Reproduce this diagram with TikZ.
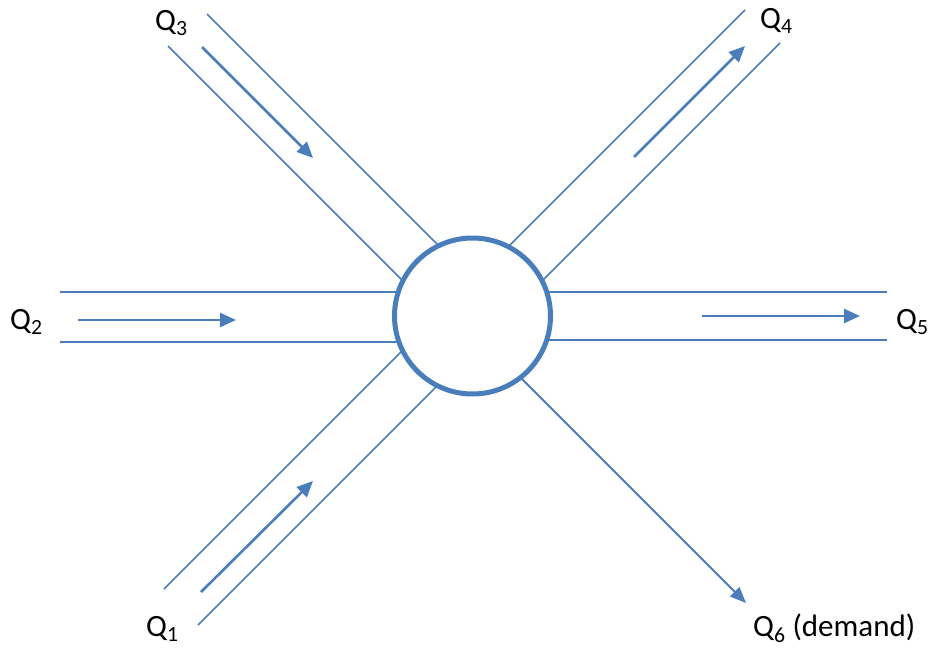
\documentclass[tikz,border=0pt]{standalone}
\usepackage{fontspec}
\setmainfont{Carlito}
\usetikzlibrary{arrows.meta,calc}
\definecolor{pipe}{HTML}{4A7EBB}
\begin{document}
\begin{tikzpicture}[x=1pt,y=-1pt,
  wall/.style={draw=pipe,line width=1.5pt},
  flow/.style={draw=pipe,line width=2.6pt,-{Triangle[length=16pt,width=14pt]}},
  lbl/.style={anchor=base west,inner sep=0pt,font=\fontsize{31}{36}\selectfont}]
\useasboundingbox (0,0) rectangle (932,648);
% junction centre
\coordinate (c) at (472.5,316);
% pipe walls (run into the junction; the filled circle hides the inner ends)
\coordinate (w3a) at (207,14);   \coordinate (w3b) at (168,46);
\coordinate (w4a) at (745,10);   \coordinate (w4b) at (780,43);
\coordinate (w1a) at (164,589);  \coordinate (w1b) at (198,625);
\coordinate (w2a) at (60,292);   \coordinate (w2b) at (60,342);
\coordinate (w5a) at (887,292);  \coordinate (w5b) at (887,340);
\draw[wall] (w3a) -- ($(w3a)+(300,300)$);
\draw[wall] (w3b) -- ($(w3b)+(300,300)$);
\draw[wall] (w4a) -- ($(w4a)+(-300,300)$);
\draw[wall] (w4b) -- ($(w4b)+(-300,300)$);
\draw[wall] (w1a) -- ($(w1a)+(300,-300)$);
\draw[wall] (w1b) -- ($(w1b)+(300,-300)$);
\draw[wall] (w2a) -- (c |- w2a);
\draw[wall] (w2b) -- (c |- w2b);
\draw[wall] (w5a) -- (c |- w5a);
\draw[wall] (w5b) -- (c |- w5b);
% demand outlet
\coordinate (d0) at (422,279);
\coordinate (d1) at (746,603);
\draw[draw=pipe,line width=2pt,-{Triangle[length=16pt,width=13pt]}] (d0) -- (d1);
% junction
\node[circle,draw=pipe,fill=white,line width=5pt,minimum size=156pt,inner sep=0pt] (J) at (c) {};
% flow arrows
\coordinate (f3s) at (202,47);  \coordinate (f3e) at (313,158);
\coordinate (f4s) at (634,157); \coordinate (f4e) at (745,46);
\coordinate (f1s) at (201,592); \coordinate (f1e) at (313,481);
\coordinate (f2s) at (78,320);  \coordinate (f2e) at (236,320);
\coordinate (f5s) at (702,316); \coordinate (f5e) at (860,316);
\draw[flow] (f3s) -- (f3e);
\draw[flow] (f4s) -- (f4e);
\draw[flow] (f1s) -- (f1e);
\draw[flow] (f2s) -- (f2e);
\draw[flow] (f5s) -- (f5e);
% labels
\node[lbl] (q3) at (155,30) {Q\textsubscript{3}};
\node[lbl] (q4) at (760,28) {Q\textsubscript{4}};
\node[lbl] (q2) at (10,329) {Q\textsubscript{2}};
\node[lbl] (q5) at (896,329) {Q\textsubscript{5}};
\node[lbl] (q1) at (146,636) {Q\textsubscript{1}};
\node[lbl] (q6) at (753,636) {Q\textsubscript{6} (demand)};
\end{tikzpicture}
\end{document}
